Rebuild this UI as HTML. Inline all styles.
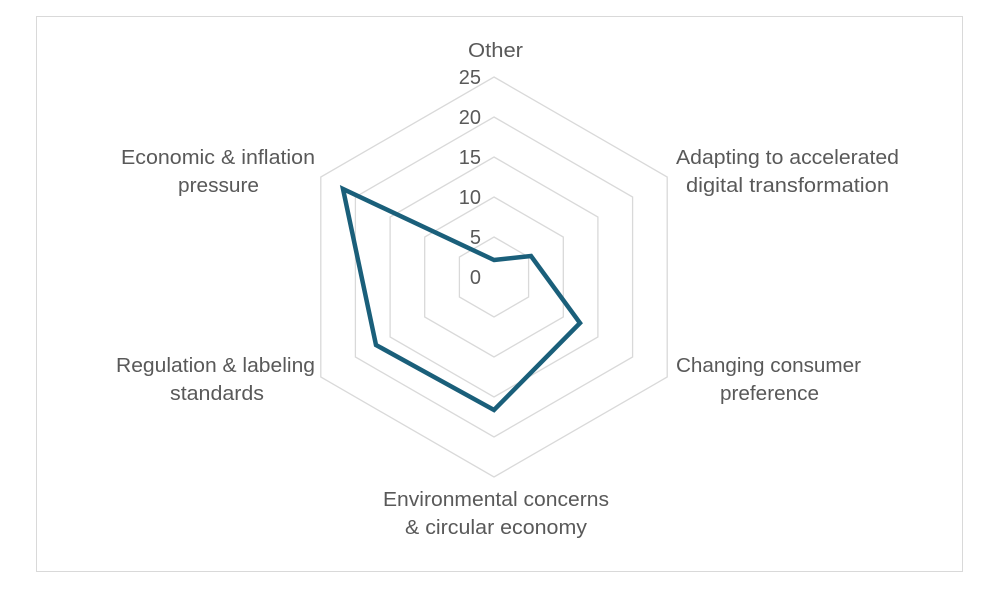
<!DOCTYPE html>
<html><head><meta charset="utf-8"><style>
html,body{margin:0;padding:0;background:#fff;}
svg text{font-family:"Liberation Sans",Arial,sans-serif;fill:#595959;font-size:20px;}
</style></head><body>
<svg width="1000" height="594" viewBox="0 0 1000 594" xmlns="http://www.w3.org/2000/svg">
<rect x="36.5" y="16.5" width="926" height="555" fill="#fff" stroke="#d9d9d9" stroke-width="1"/>
<g fill="none" stroke="#d9d9d9" stroke-width="1.3">
<polygon points="494,77 667.2,177 667.2,377 494,477 320.8,377 320.8,177"/>
<polygon points="494,117 632.6,197 632.6,357 494,437 355.4,357 355.4,197"/>
<polygon points="494,157 597.9,217 597.9,337 494,397 390.1,337 390.1,217"/>
<polygon points="494,197 563.3,237 563.3,317 494,357 424.7,317 424.7,237"/>
<polygon points="494,237 528.6,257 528.6,297 494,317 459.4,297 459.4,257"/>
</g>
<polygon points="494,260 531,256 580,323 494,410 376,345 343,189" fill="none" stroke="#1a5f7a" stroke-width="4.5" stroke-linejoin="miter"/>
<g text-anchor="end">
<text x="481" y="84">25</text>
<text x="481" y="124">20</text>
<text x="481" y="164">15</text>
<text x="481" y="204">10</text>
<text x="481" y="244">5</text>
<text x="481" y="284">0</text>
</g>
<g>
<text x="468" y="57" textLength="55" lengthAdjust="spacingAndGlyphs">Other</text>
<text x="676" y="164" textLength="223" lengthAdjust="spacingAndGlyphs">Adapting to accelerated</text>
<text x="686" y="192" textLength="203" lengthAdjust="spacingAndGlyphs">digital transformation</text>
<text x="676" y="372" textLength="185" lengthAdjust="spacingAndGlyphs">Changing consumer</text>
<text x="720" y="400" textLength="99" lengthAdjust="spacingAndGlyphs">preference</text>
<text x="383" y="506" textLength="226" lengthAdjust="spacingAndGlyphs">Environmental concerns</text>
<text x="405" y="534" textLength="182" lengthAdjust="spacingAndGlyphs">&amp; circular economy</text>
<text x="116" y="372" textLength="199" lengthAdjust="spacingAndGlyphs">Regulation &amp; labeling</text>
<text x="170" y="400" textLength="94" lengthAdjust="spacingAndGlyphs">standards</text>
<text x="121" y="164" textLength="194" lengthAdjust="spacingAndGlyphs">Economic &amp; inflation</text>
<text x="178" y="192" textLength="81" lengthAdjust="spacingAndGlyphs">pressure</text>
</g>
</svg>
</body></html>
